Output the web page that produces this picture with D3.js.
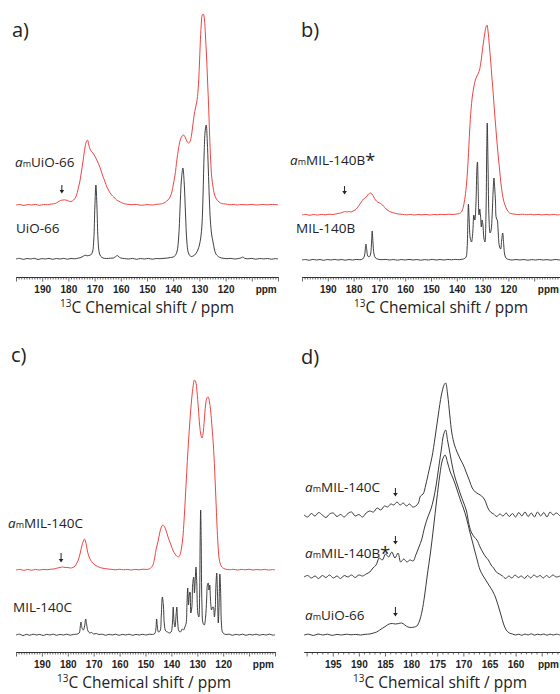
<!DOCTYPE html>
<html><head><meta charset="utf-8">
<script src="https://cdn.jsdelivr.net/npm/d3@7"></script>
<style>
html,body{margin:0;padding:0;background:#fff;}
svg{display:block;}
</style></head><body>
<svg id="chart" width="560" height="694"></svg>
<script>
// ---------- tick labels ----------
const TICKS_WIDE = [190, 180, 170, 160, 150, 140, 130, 120];
const TICKS_NARROW = [195, 190, 185, 180, 175, 170, 165, 160];
const AXIS_TITLE_SUP = "13";
const AXIS_TITLE = "C Chemical shift / ppm";

// ---------- spectra: [ppm, intensity (a.u.)] ----------
// a) UiO-66 (black) and amUiO-66 (red)
const uio66 = [
[200,0],[198.6,0.6],[197.2,-0.4],[195.8,0.5],[194.4,0],[193,0.7],[191.6,-0.5],[190.2,0.4],[188.8,0],[187.4,0.6],[186,-0.3],[184.6,0.5],[183.2,0],[181.8,0.6],[180.4,-0.2],[179,0.5],[177.6,0.2],[176.3,0.8],[175.2,1.5],[174.3,2.8],[173.6,3.8],[172.9,3.2],[172.2,3.5],[171.5,4],[170.8,7],[170.3,20],[169.9,52],[169.5,74],[169.1,52],[168.7,20],[168.2,6],[167.6,2.5],[166.8,1],[165.5,0.5],[164,0.8],[162.8,1],[161.9,2.5],[161.3,3.5],[160.7,2],[160,1],[158.5,0.4],[157,0],[155.5,0.6],[154,-0.3],[152.5,0.5],[151,0],[149.5,0.6],[148,-0.2],[146.5,0.5],[145,0.3],[143.5,0.7],[142,1],[141,1.5],[140,2],[139.2,3.5],[138.5,8],[137.9,22],[137.4,50],[136.9,78],[136.3,91],[135.8,76],[135.3,45],[134.8,18],[134.3,7],[133.7,3.5],[133,2.5],[132.4,3],[131.8,4],[131.2,6],[130.6,9],[130,14],[129.5,21],[129,35],[128.6,65],[128.2,105],[127.8,128],[127.4,134],[127,118],[126.6,90],[126.2,60],[125.8,38],[125.3,24],[124.8,17],[124.3,10],[123.7,5],[123,3],[122.2,1.5],[121,0.8],[119.5,0.3],[118,0.6],[116.5,0],[115,0.5],[114,1.2],[113.4,2],[112.8,0.8],[111.5,0.2],[110,0.6],[108.5,-0.2],[107,0.5],[105.5,0.1],[104,0.5],[102.5,-0.2],[101,0.4],[100,0]
];
const amUio66 = [
[200,0],[198.5,0.5],[197,-0.5],[195.5,0.5],[194,0],[192.5,0.6],[191,-0.4],[189.5,0.5],[188,0.3],[186.5,1],[185,1.5],[184,3],[183,4.5],[182,5],[181,5],[180,4],[179,3.5],[178,5],[177,9],[176.3,16],[175.6,24],[175,34],[174.3,46],[173.7,57],[173.2,63],[172.7,65],[172.2,60],[171.6,55],[171,53],[170.4,51],[169.7,48],[169,44],[168,38],[167,30],[166,23],[165.3,18],[164.5,14],[163.5,10],[162.7,8],[162,6],[161,4],[160.2,3],[159,1.5],[157.7,0.8],[156,0.3],[154,0.5],[152,-0.3],[150,0.4],[148,0],[146.5,0.6],[145,1],[144,1.5],[143,3],[142,5],[141.2,8],[140.5,13],[140,20],[139.3,30],[138.6,45],[138,56],[137.3,65],[136.6,69],[136,70],[135.3,67],[134.6,63],[134,62],[133.5,64],[133,70],[132.5,80],[132,90],[131.5,97],[131,103],[130.5,115],[130,140],[129.7,160],[129.3,180],[128.9,190],[128.5,191],[128.1,186],[127.7,170],[127.3,150],[126.9,125],[126.5,100],[126.1,70],[125.7,45],[125.3,28],[124.8,18],[124.3,11],[123.5,6],[122.5,3],[121.5,1.5],[120,1],[118.5,0.3],[117,0.6],[115.5,0],[114,0.5],[112,0.2],[110,0.6],[108,0],[106,0.5],[104,0.2],[102,0.6],[100,0.2]
];

// b) MIL-140B (black) and amMIL-140B (red)
const mil140b = [
[200,0],[198.6,0.5],[197.2,-0.3],[195.8,0.6],[194.4,0],[193,0.5],[191.6,-0.3],[190.2,0.5],[188.8,0],[187.4,0.6],[186,0],[184.6,0.5],[183.2,-0.2],[181.8,0.5],[180.4,0],[179,0.6],[177.6,0.3],[176.5,1],[175.8,4],[175.5,10],[175.2,16],[174.9,10],[174.5,4],[174,3],[173.5,5],[173.1,15],[172.8,29],[172.5,18],[172.1,6],[171.5,2],[170.5,0.8],[169,0.3],[167.5,0.6],[166,0],[164.5,0.5],[163,-0.2],[161.5,0.5],[160,0],[158.5,0.6],[157,0],[155.5,0.5],[154,-0.2],[152.5,0.4],[151,0],[149.5,0.6],[148,0],[146.5,0.5],[145,0],[143.5,0.6],[142,0.2],[140.5,0.6],[139,0.3],[137.8,0.8],[137,1.5],[136.4,3],[136,12],[135.7,40],[135.5,56],[135.2,40],[134.8,22],[134.3,18],[133.8,28],[133.4,45],[133,40],[132.6,55],[132.2,92],[132,98],[131.7,70],[131.4,45],[131.1,51],[130.8,44],[130.5,33],[130.2,40],[129.9,36],[129.5,22],[129.1,18],[128.7,45],[128.4,110],[128.2,137],[127.9,95],[127.5,40],[127.1,27],[126.7,30],[126.3,45],[125.9,70],[125.6,82],[125.3,72],[125,58],[124.7,42],[124.3,40],[124,30],[123.5,14],[123,11],[122.6,20],[122.2,27],[121.8,15],[121.4,5],[120.8,1.5],[120,0.6],[118.5,0],[117,0.5],[115.5,0],[114,0.5],[112.5,-0.2],[111,0.4],[109.5,0],[108,0.5],[106.5,0],[105,0.4],[103.5,-0.2],[102,0.5],[100,0]
];
const amMil140b = [
[200,0],[198.5,0.6],[197,-0.3],[195.5,0.5],[194,0],[192.5,0.6],[191,0.2],[189.5,0.8],[188,0.5],[187,1],[186,1.5],[185,2],[184,3],[183.2,3.5],[182.5,3],[181.7,3.5],[181,3],[180.2,4],[179.4,5],[178.6,7],[177.8,10],[177,13],[176.2,16],[175.5,17],[174.8,19],[174.2,21],[173.5,22],[172.9,21],[172.2,18],[171.5,15],[170.7,13],[170,12],[169.2,11],[168.5,9],[167.7,7],[167,5],[166,3.5],[165,2.5],[164,1.8],[162.5,1],[161,0.6],[159.5,0.2],[158,0.6],[156.5,0],[155,0.5],[153.5,0.2],[152,0.6],[150.5,0],[149,0.5],[147.5,0.3],[146,0.7],[144.5,0.4],[143,0.8],[141.5,0.5],[140,1],[139,1.5],[138.2,3],[137.5,8],[136.8,18],[136.2,32],[135.6,55],[135,85],[134.5,105],[134,118],[133.4,128],[132.8,135],[132.2,139],[131.6,142],[131.2,145],[130.7,152],[130.2,162],[129.7,172],[129.2,181],[128.7,188],[128.3,190],[127.9,184],[127.4,170],[126.9,155],[126.4,138],[125.9,122],[125.4,104],[124.9,88],[124.4,72],[123.9,58],[123.4,45],[122.9,32],[122.4,22],[121.9,15],[121.3,10],[120.5,5],[119.5,2],[118.5,1.2],[117.5,0.8],[116,0.4],[114.5,0.8],[113,0.3],[111.5,0.7],[110,0.2],[108.5,0.6],[107,0.1],[105.5,0.5],[104,0.2],[102.5,0.6],[101,0.1],[100,0.4]
];

// c) MIL-140C (black) and amMIL-140C (red)
const mil140c = [
[200,0],[198.6,0.8],[197.3,-0.6],[196,0.7],[194.7,-0.3],[193.4,0.8],[192.1,0],[190.8,0.6],[189.5,-0.5],[188.2,0.7],[186.9,0],[185.6,0.8],[184.3,-0.3],[183,0.6],[181.7,0],[180.4,0.8],[179.1,-0.2],[177.8,0.6],[176.5,0.8],[175.6,2],[175.2,8],[174.9,13],[174.5,7],[174,5],[173.5,9],[173.1,16],[172.7,10],[172.2,4],[171.5,2],[170.8,2.5],[170,1],[169,1.5],[168,0.5],[166.7,0.8],[165.4,-0.3],[164.1,0.7],[162.8,0],[161.5,0.8],[160.2,-0.3],[158.9,0.6],[157.6,0],[156.3,0.8],[155,-0.3],[153.7,0.6],[152.4,0],[151.1,0.7],[149.8,0],[148.5,0.8],[147.3,0.5],[146.4,1.5],[146,6],[145.7,16],[145.4,8],[145,3],[144.4,4],[143.9,20],[143.5,38],[143.1,30],[142.7,10],[142.2,4],[141.5,3],[140.8,2],[140.1,3],[139.6,12],[139.3,28],[139,14],[138.6,8],[138.2,20],[137.9,28],[137.6,14],[137.1,4],[136.5,3],[135.8,6],[135.3,5],[134.8,8],[134.3,12],[134,30],[133.7,47],[133.4,30],[133.1,40],[132.8,43],[132.5,22],[132.1,28],[131.8,50],[131.4,58],[131.1,42],[130.8,55],[130.5,68],[130.2,52],[129.8,22],[129.4,18],[129.1,40],[128.9,95],[128.7,125],[128.5,95],[128.2,30],[127.8,12],[127.3,10],[126.8,18],[126.4,35],[126.1,50],[125.8,52],[125.5,45],[125.2,50],[124.9,35],[124.5,25],[124.1,28],[123.8,28],[123.4,18],[123.1,25],[122.8,50],[122.5,62],[122.2,40],[121.9,12],[121.6,30],[121.3,61],[121,45],[120.7,12],[120.3,3],[119.8,1.5],[119,0.5],[117.7,0.8],[116.4,-0.3],[115.1,0.7],[113.8,0],[112.5,0.8],[111.2,-0.3],[109.9,0.6],[108.6,0],[107.3,0.8],[106,-0.2],[104.7,0.6],[103.4,0],[102.1,0.8],[100.8,-0.2],[100,0.3]
];
const amMil140c = [
[200,0],[198.5,0.6],[197,-0.4],[195.5,0.5],[194,-0.2],[192.5,0.6],[191,0],[189.5,0.6],[188,0.3],[186.5,0.8],[185,1.2],[184,2],[183,2.5],[182,3],[181,2.5],[180,2.5],[179,2],[178,2.5],[177.2,4],[176.5,7],[175.8,11],[175.2,17],[174.6,24],[174,29],[173.6,31],[173.1,28],[172.5,20],[171.9,14],[171.2,10],[170.4,7],[169.5,5],[168.5,3.5],[167.5,2.5],[166,1.5],[164.5,1],[163,0.6],[161.5,0.2],[160,0.7],[158.5,0.2],[157,0.6],[155.5,0],[154,0.6],[152.5,0.2],[151,0.8],[149.5,0.6],[148.5,1.2],[147.6,3],[147,6],[146.4,13],[145.8,22],[145.2,28],[144.6,36],[144,42],[143.3,45],[142.6,43],[142,39],[141.3,33],[140.6,28],[140,24],[139.3,19],[138.6,16],[138,14],[137.3,13],[136.7,15],[136.1,22],[135.6,32],[135.1,50],[134.6,73],[134.1,97],[133.6,120],[133.1,140],[132.6,158],[132.1,173],[131.6,184],[131.1,190],[130.6,188],[130.1,178],[129.6,162],[129.1,145],[128.6,135],[128.2,132],[127.8,136],[127.3,150],[126.8,165],[126.3,172],[125.8,173],[125.3,168],[124.8,158],[124.3,142],[123.8,125],[123.3,100],[122.8,70],[122.4,45],[122,25],[121.6,12],[121.1,6],[120.5,3],[119.8,1.5],[119,0.8],[117.5,0.3],[116,0.7],[114.5,0],[113,0.6],[111.5,0.2],[110,0.7],[108.5,0],[107,0.5],[105.5,0.1],[104,0.6],[102.5,0],[101,0.4],[100,0.2]
];

// d) carboxylate region of the amorphous samples
const dAmMil140c = [
[200.5,0],[199.8,-2],[199.1,1.5],[198.4,-1],[197.7,2.5],[197,0],[196.3,-2.5],[195.6,1],[194.9,2],[194.2,-1.5],[193.5,0.5],[192.8,-2],[192.1,1.5],[191.4,3],[190.7,-1],[190,0.5],[189.3,-2],[188.6,2],[187.9,4],[187.2,3],[186.5,7],[185.8,5],[185.1,9],[184.5,8],[183.9,11],[183.3,10],[182.7,13],[182.1,10],[181.5,12],[180.9,9],[180.3,11],[179.7,8],[179.1,9],[178.6,12],[178.2,19],[177.7,21],[177.2,30],[176.6,44],[176,58],[175.4,78],[174.8,100],[174.2,120],[173.7,130],[173.4,132],[173,120],[172.6,100],[172.2,82],[171.7,70],[171.2,63],[170.6,56],[170,50],[169.4,42],[168.8,34],[168.3,27],[167.7,23],[167.1,21],[166.5,19],[165.9,15],[165.3,7],[164.8,3],[164.2,1],[163.6,-1.5],[163,1],[162.4,-1],[161.8,2],[161.2,-1.5],[160.6,1.5],[160,-2],[159.4,2.5],[158.8,-1],[158.2,3],[157.6,-1.5],[157,2],[156.4,-2],[155.8,3],[155.2,-1],[154.6,2.5],[154,-2],[153.4,3],[152.8,0],[152.2,2],[151.5,-1]
];
const dAmMil140b = [
[200.5,0],[199.8,1.5],[199.1,-1],[198.4,1],[197.7,-1.5],[197,1.5],[196.3,-0.5],[195.6,2],[194.9,-1],[194.2,1],[193.5,-1.5],[192.8,1.5],[192.1,0],[191.4,2],[190.7,-0.5],[190,2],[189.3,1],[188.6,3],[187.9,5],[187.3,9],[186.7,12],[186.1,19],[185.5,17],[184.9,23],[184.3,20],[183.7,25],[183.1,19],[182.5,24],[182,15],[181.4,18],[180.8,15],[180.2,17],[179.6,16],[179.1,22],[178.5,30],[178,37],[177.4,50],[176.8,60],[176.2,68],[175.7,78],[175.2,92],[174.7,110],[174.2,128],[173.8,142],[173.4,147],[173,136],[172.5,122],[172,108],[171.5,98],[171,90],[170.5,82],[170,75],[169.4,66],[168.9,52],[168.4,44],[167.9,40],[167.4,37],[166.8,30],[166.2,24],[165.7,20],[165.2,17],[164.7,12],[164.2,9],[163.7,5],[163.1,3],[162.5,1],[161.9,-1.5],[161.3,1],[160.7,-1],[160.1,2],[159.5,-0.5],[158.9,1],[158.3,-1.5],[157.7,1.5],[157.1,-1],[156.5,2],[155.9,0],[155.3,1.5],[154.7,-1],[154.1,1.5],[153.5,-0.5],[152.9,2],[152.2,0],[151.5,1]
];
const dAmUio66 = [
[200.5,0],[199.6,0.8],[198.7,-0.5],[197.8,1],[196.9,0],[196,0.8],[195.1,-0.4],[194.2,0.6],[193.3,0],[192.4,0.8],[191.5,0.2],[190.6,0.6],[189.7,0],[188.8,0.7],[187.9,1],[187.2,2],[186.6,3],[186,5],[185.4,7],[184.8,9],[184.2,11],[183.6,11.5],[183,11],[182.4,11.5],[181.8,12],[181.2,10],[180.6,8],[180,7.5],[179.4,8],[178.9,9],[178.4,14],[177.9,24],[177.4,40],[176.9,60],[176.3,82],[175.7,108],[175.1,135],[174.5,160],[174,175],[173.5,180],[173,172],[172.5,163],[172,157],[171.5,150],[171,142],[170.5,134],[170,127],[169.4,117],[168.8,104],[168.1,90],[167.4,76],[166.8,65],[166.2,59],[165.6,54],[165,49],[164.4,44],[163.8,37],[163.3,29],[162.8,20],[162.3,11],[161.8,5],[161.2,2],[160.6,1],[160,0],[159.4,0.8],[158.8,-0.3],[158.2,1],[157.6,0],[157,1.2],[156.4,-0.2],[155.8,0.8],[155.2,0.2],[154.6,1],[154,-0.2],[153.4,0.9],[152.8,0],[152.2,0.8],[151.5,0]
];

// ---------- layout ----------
const RED = "#f04444", BLACK = "#2b2b2b", GREY = "#3a3a3a";
const FONT = "'Open Sans', 'Noto Sans', sans-serif";
const TICKFONT = "'Liberation Sans', Arial, sans-serif";

const panels = [
  { tag: "a)", tagPos: [12, 37], domain: [200, 100], range: [16, 278], axisY: 277, major: 10, labels: TICKS_WIDE, ppmAt: 104.5, titleX: 147,
    traces: [ {data: uio66, off: 18, color: BLACK, w: 0.9}, {data: amUio66, off: 72, color: RED, w: 1} ],
    texts: [ {x: 15, y: 167, am: true, name: "UiO-66"}, {x: 16, y: 233, am: false, name: "UiO-66"} ],
    arrows: [ {ppm: 182.5, from: 92, to: 84} ] },
  { tag: "b)", tagPos: [301, 37], domain: [200, 100], range: [302, 560], axisY: 277, major: 10, labels: TICKS_WIDE, ppmAt: 104.5, titleX: 441,
    traces: [ {data: mil140b, off: 17, color: BLACK, w: 0.9}, {data: amMil140b, off: 62, color: RED, w: 1} ],
    texts: [ {x: 290, y: 165, am: true, name: "MIL-140B", star: true}, {x: 296, y: 233, am: false, name: "MIL-140B"} ],
    arrows: [ {ppm: 183.5, from: 91, to: 83} ] },
  { tag: "c)", tagPos: [11, 362], domain: [200, 100], range: [16, 275], axisY: 652, major: 10, labels: TICKS_WIDE, ppmAt: 104.5, titleX: 144,
    traces: [ {data: mil140c, off: 17, color: BLACK, w: 0.9}, {data: amMil140c, off: 82, color: RED, w: 1} ],
    texts: [ {x: 8, y: 528, am: true, name: "MIL-140C"}, {x: 13, y: 612, am: false, name: "MIL-140C"} ],
    arrows: [ {ppm: 182.6, from: 99, to: 90} ] },
  { tag: "d)", tagPos: [301, 364], domain: [200.5, 151.5], range: [304, 560], axisY: 652, major: 5, labels: TICKS_NARROW, ppmAt: 152.7, ppmAnchor: "end", titleX: 440,
    traces: [ {data: dAmUio66, off: 17, color: GREY, w: 1}, {data: dAmMil140b, off: 75, color: GREY, w: 1}, {data: dAmMil140c, off: 137, color: GREY, w: 1} ],
    texts: [ {x: 305, y: 492, am: true, name: "MIL-140C"}, {x: 305, y: 558, am: true, name: "MIL-140B", star: true}, {x: 305, y: 620, am: true, name: "UiO-66"} ],
    arrows: [ {ppm: 183, from: 164, to: 156}, {ppm: 183, from: 116, to: 108}, {ppm: 183, from: 45, to: 36} ] }
];

const svg = d3.select("#chart");
svg.append("rect").attr("width", 560).attr("height", 694).attr("fill", "#fff");

panels.forEach(p => {
  const g = svg.append("g");
  const x = d3.scaleLinear().domain(p.domain).range(p.range);
  const y = d3.scaleLinear().domain([0, 260]).range([p.axisY, p.axisY - 260]);

  // traces
  p.traces.forEach(t => {
    const line = d3.line()
      .x(d => x(d[0]))
      .y(d => y(d[1] + t.off))
      .curve(d3.curveCatmullRom.alpha(0.5));
    g.append("path").datum(t.data)
      .attr("d", line).attr("fill", "none")
      .attr("stroke", t.color).attr("stroke-width", t.w)
      .attr("stroke-linejoin", "round");
  });

  // axis
  const lo = Math.ceil(Math.min(...p.domain)), hi = Math.floor(Math.max(...p.domain));
  const minors = d3.range(lo, hi + 1).filter(v => v % p.major !== 0);
  const majors = d3.range(lo, hi + 1).filter(v => v % p.major === 0);
  const ax = g.append("g").attr("transform", `translate(0,${p.axisY})`);
  ax.append("g").call(d3.axisBottom(x).tickValues(minors).tickSize(2.5).tickSizeOuter(0).tickFormat(""));
  ax.append("g").call(d3.axisBottom(x).tickValues(majors).tickSize(4.5).tickSizeOuter(0).tickPadding(4)
      .tickFormat(d => p.labels.includes(d) ? d : ""));
  ax.selectAll("path.domain").attr("stroke", "#333").attr("stroke-width", 1);
  ax.selectAll(".tick line").attr("stroke", "#444").attr("stroke-width", 0.8);
  ax.selectAll(".tick text").attr("font-family", TICKFONT).attr("font-weight", "bold")
    .attr("font-size", 10).attr("fill", "#222");
  ax.append("text").attr("x", p.ppmAnchor === "end" ? 559 : x(p.ppmAt)).attr("y", 15.6)
    .attr("text-anchor", p.ppmAnchor || "middle")
    .attr("font-family", TICKFONT).attr("font-weight", "bold").attr("font-size", 10)
    .attr("fill", "#222").text("ppm");

  // axis title
  const title = g.append("text").attr("x", p.titleX).attr("y", p.axisY + 36)
    .attr("text-anchor", "middle").attr("font-family", FONT).attr("font-size", 15.5).attr("fill", "#222");
  title.append("tspan").attr("font-size", 10).attr("dy", -6).text(AXIS_TITLE_SUP);
  title.append("tspan").attr("dy", 6).text(AXIS_TITLE);

  // panel tag
  g.append("text").attr("x", p.tagPos[0]).attr("y", p.tagPos[1])
    .attr("font-family", FONT).attr("font-size", 20).attr("fill", "#222").text(p.tag);

  // sample labels
  p.texts.forEach(s => {
    const t = g.append("text").attr("x", s.x).attr("y", s.y)
      .attr("font-family", FONT).attr("font-size", 13.5).attr("fill", "#222");
    if (s.am) {
      t.append("tspan").attr("font-style", "italic").text("a");
      t.append("tspan").attr("font-size", 9).text("m");
    }
    t.append("tspan").text(s.name);
    if (s.star) t.append("tspan").attr("font-size", 18).attr("dy", 2).text("*");
  });

  // arrows
  p.arrows.forEach(a => {
    const ax0 = x(a.ppm), yt = y(a.from), yb = y(a.to);
    g.append("line").attr("x1", ax0).attr("x2", ax0).attr("y1", yt).attr("y2", yb - 2)
      .attr("stroke", "#222").attr("stroke-width", 1);
    g.append("path").attr("d", `M${ax0 - 2.3},${yb - 3}L${ax0 + 2.3},${yb - 3}L${ax0},${yb + 0.5}Z`)
      .attr("fill", "#222");
  });
});
</script>
</body></html>
